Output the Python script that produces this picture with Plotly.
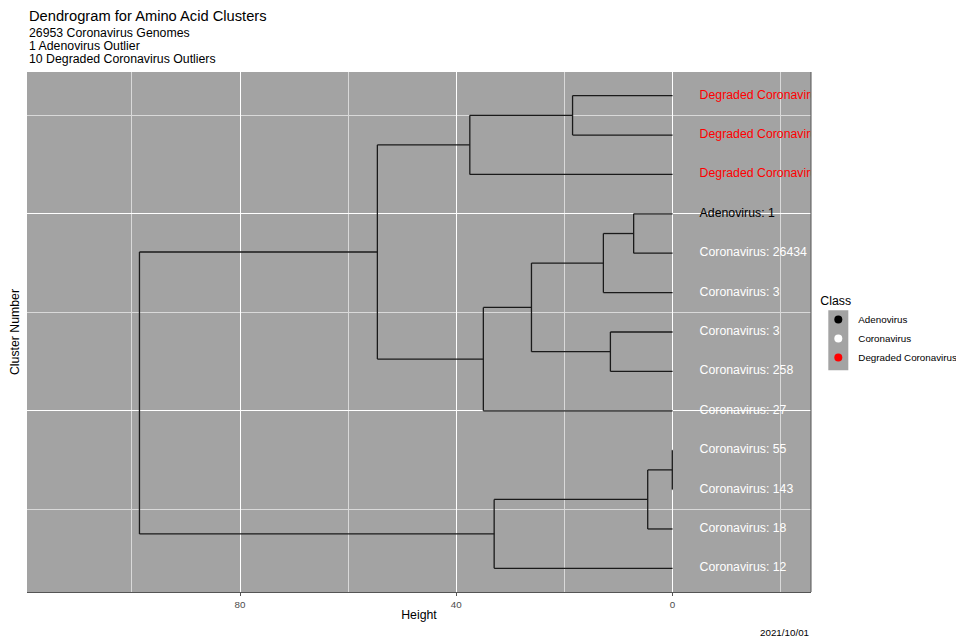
import plotly.graph_objects as go

# ---------------- data ----------------
# leaves, in dendrogram order from bottom (position 1) to top (position 13)
leaf_labels = [
    "Coronavirus: 12", "Coronavirus: 18", "Coronavirus: 143", "Coronavirus: 55",
    "Coronavirus: 27", "Coronavirus: 258", "Coronavirus: 3", "Coronavirus: 3",
    "Coronavirus: 26434", "Adenovirus: 1",
    "Degraded Coronavirus: 5", "Degraded Coronavirus: 3", "Degraded Coronavirus: 2",
]
leaf_class = [
    "Coronavirus", "Coronavirus", "Coronavirus", "Coronavirus",
    "Coronavirus", "Coronavirus", "Coronavirus", "Coronavirus",
    "Coronavirus", "Adenovirus",
    "Degraded Coronavirus", "Degraded Coronavirus", "Degraded Coronavirus",
]
# hclust-style merge matrix: negative = leaf (1-based), positive = earlier merge (1-based)
merge_a = [-3, 1, -9, -6, 3, -12, 5, -1, 7, 6, 9, 8]
merge_b = [-4, -2, -10, -7, -8, -13, 4, 2, -5, -11, 10, 11]
merge_height = [0.05, 4.6, 7.2, 11.5, 12.8, 18.5, 26.1, 33.0, 35.0, 37.5, 54.6, 98.6]

classes = ["Adenovirus", "Coronavirus", "Degraded Coronavirus"]
class_colors = {"Adenovirus": "#000000", "Coronavirus": "#FFFFFF", "Degraded Coronavirus": "#FF0000"}

title = "Dendrogram for Amino Acid Clusters"
subtitle_lines = ["26953 Coronavirus Genomes", "1 Adenovirus Outlier", "10 Degraded Coronavirus Outliers"]
caption = "2021/10/01"

# ---------------- dendrogram geometry ----------------
leaf_pos = list(range(1, len(leaf_labels) + 1))
node_pos, node_h = [], []


def get(ref):
    if ref < 0:
        return leaf_pos[-ref - 1], 0.0
    return node_pos[ref - 1], node_h[ref - 1]


seg_x, seg_y = [], []
for a, b, h in zip(merge_a, merge_b, merge_height):
    ya, ha = get(a)
    yb, hb = get(b)
    # vertical
    seg_x += [h, h, None]
    seg_y += [ya, yb, None]
    # horizontals
    seg_x += [ha, h, None, hb, h, None]
    seg_y += [ya, ya, None, yb, yb, None]
    node_pos.append((ya + yb) / 2)
    node_h.append(h)

FONT = "Liberation Sans, Arial, sans-serif"
PANEL = "#A3A3A3"
LABEL_H = -5

fig = go.Figure()
fig.add_trace(go.Scatter(
    x=seg_x, y=seg_y, mode="lines",
    line=dict(color="#1A1A1A", width=1.3),
    showlegend=False, hoverinfo="skip",
))
fig.add_trace(go.Scatter(
    x=[LABEL_H] * len(leaf_labels), y=leaf_pos, mode="text",
    text=leaf_labels, textposition="middle right",
    textfont=dict(family=FONT, size=12.3, color=[class_colors[c] for c in leaf_class]),
    showlegend=False, hoverinfo="skip", cliponaxis=True,
))
for c in classes:
    fig.add_trace(go.Scatter(
        x=[None], y=[None], mode="markers", name=c,
        marker=dict(color=class_colors[c], size=8),
    ))

# pixel helpers for the plot area
L, R, T, B = 27, 810.7, 72, 591.7
W, H = 956, 641


def px_x(px):
    return (px - L) / (R - L)


def px_y(py):
    return (B - py) / (B - T)


fig.update_layout(
    width=W, height=H,
    margin=dict(l=L, r=W - R, t=T, b=H - B, autoexpand=False),
    paper_bgcolor="white", plot_bgcolor=PANEL,
    font=dict(family=FONT, color="black"),
    xaxis=dict(
        range=[119.4, -25.6], tick0=0, dtick=40,
        showgrid=True, gridcolor="white", gridwidth=1.1,
        minor=dict(dtick=20, tick0=0, showgrid=True, gridcolor="#D9D9D9", gridwidth=0.5, ticks=""),
        zeroline=False, showline=True, linecolor="#555555", linewidth=1,
        ticks="outside", ticklen=3, tickcolor="#555555", tickwidth=1,
        tickfont=dict(size=9.8, color="#4D4D4D"),
        title=dict(text="Height", font=dict(size=12.3), standoff=1),
    ),
    yaxis=dict(
        range=[0.4, 13.6], tickvals=[5, 10], showticklabels=False, ticks="",
        showgrid=True, gridcolor="white", gridwidth=1.1,
        minor=dict(tickvals=[2.5, 7.5, 12.5], showgrid=True, gridcolor="#D9D9D9", gridwidth=0.5),
        zeroline=False,
        title=dict(text="Cluster Number", font=dict(size=12.3), standoff=3),
    ),
    legend=dict(
        x=px_x(818), y=px_y(289), xanchor="left", yanchor="top",
        bgcolor="rgba(0,0,0,0)",
        title=dict(text="Class", font=dict(size=12.3)),
        font=dict(size=9.8), itemwidth=30,
    ),
    shapes=[
        dict(type="rect", xref="paper", yref="paper",
             x0=px_x(828), x1=px_x(848), y0=px_y(370), y1=px_y(310),
             fillcolor=PANEL, line=dict(width=0), layer="below"),
        dict(type="line", xref="paper", yref="paper", x0=1, x1=1, y0=0, y1=1,
             line=dict(color="#555555", width=1)),
    ],
    annotations=[
        dict(text=title, xref="paper", yref="paper", x=px_x(27), y=px_y(16),
             xanchor="left", yanchor="middle", showarrow=False, font=dict(size=14.7)),
    ] + [
        dict(text=t, xref="paper", yref="paper", x=px_x(27), y=px_y(33 + 13 * i),
             xanchor="left", yanchor="middle", showarrow=False, font=dict(size=12.3))
        for i, t in enumerate(subtitle_lines)
    ] + [
        dict(text=caption, xref="paper", yref="paper", x=1, y=px_y(632),
             xanchor="right", yanchor="middle", showarrow=False, font=dict(size=9.8)),
    ],
)

fig.write_html("out.html")
